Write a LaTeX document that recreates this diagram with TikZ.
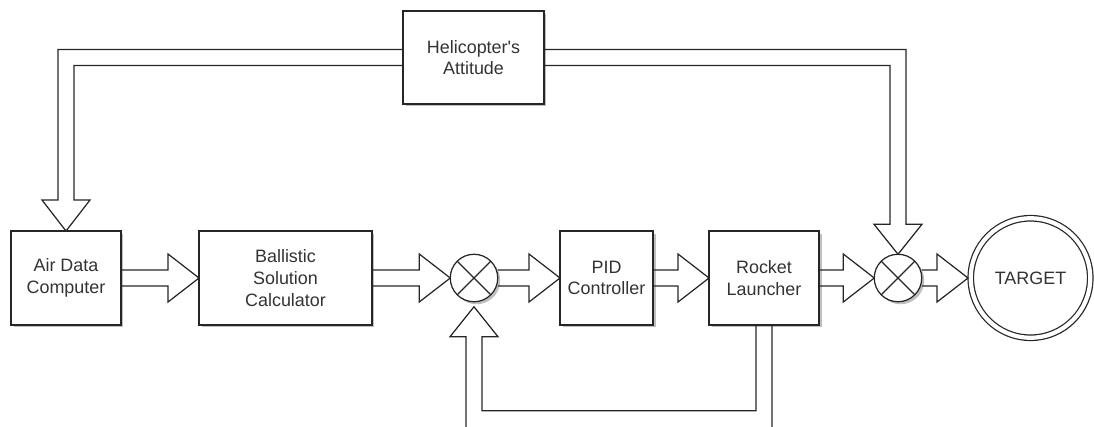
\documentclass[tikz,border=0pt]{standalone}
\usepackage{fontspec}
\newfontfamily\drawfont{Liberation Sans}
\usetikzlibrary{calc,shadows}

\begin{document}
\begin{tikzpicture}[x=0.02cm, y=-0.02cm, line width=0.7pt,
		font=\drawfont\fontsize{10.2}{12.4}\selectfont,
		shade/.style={drop shadow={shadow xshift=0.05cm, shadow yshift=-0.05cm, opacity=0.25, fill=black}},
		block/.style={draw=black!85, fill=white, text=black!80, align=center, inner sep=0pt, outer sep=0pt, shade},
		sum/.style={draw=black!85, fill=white, circle, inner sep=0pt, outer sep=0pt, minimum size=0.95cm, shade},
		goal/.style={draw=black!85, fill=white, text=black!80, circle, double, double distance=2.4pt, inner sep=0pt, outer sep=0.055cm, minimum size=2.39cm, shade},
		flat/.style={draw=black!85, to path={
				($(\tikztostart)+(0,-8)$) -- ($(\tikztotarget)+(-31,-8)$) -- ($(\tikztotarget)+(-31,-24)$)
				-- (\tikztotarget) -- ($(\tikztotarget)+(-31,24)$) -- ($(\tikztotarget)+(-31,8)$) -- ($(\tikztostart)+(0,8)$)}}]
	\useasboundingbox (0,0) rectangle (1094,426);
	\clip (0,0) rectangle (1094,426);
	
	\node[block, minimum width=2.2cm, minimum height=1.88cm] (adc) at (66,278) {Air Data\\Computer};
	\node[block, minimum width=3.46cm, minimum height=1.88cm] (bsc) at (285.5,278) {Ballistic\\Solution\\Calculator};
	\node[block, minimum width=2.82cm, minimum height=1.86cm] (heli) at (473.5,57.5) {Helicopter's\\Attitude};
	\node[sum] (sum1) at (474,278) {};
	\node[block, minimum width=1.86cm, minimum height=1.88cm] (pid) at (606.5,278) {PID\\Controller};
	\node[block, minimum width=2.2cm, minimum height=1.88cm] (rl) at (764,278) {Rocket\\Launcher};
	\node[sum] (sum2) at (898,278) {};
	\node[goal] (target) at (1030.5,278) {TARGET};
	\coordinate (fbtip) at ($(sum1.south)+(0,5)$);
	
	\draw[black!85] (sum1.north west) -- (sum1.south east);
	\draw[black!85] (sum1.north east) -- (sum1.south west);
	\draw[black!85] (sum2.north west) -- (sum2.south east);
	\draw[black!85] (sum2.north east) -- (sum2.south west);
	
	\draw[flat] (adc.east) to (bsc.west);
	\draw[flat] (bsc.east) to (sum1.west);
	\draw[flat] (sum1.east) to (pid.west);
	\draw[flat] (pid.east) to (rl.west);
	\draw[flat] (rl.east) to (sum2.west);
	\draw[flat] (sum2.east) to (target.west);
	
	\draw[black!85] ($(heli.west)+(0,-8)$) -| ($(adc.north)+(-8,-31)$) -- ++(-16,0) -- (adc.north)
		-- ++(24,-31) -- ++(-16,0) |- ($(heli.west)+(0,8)$);
	\draw[black!85] ($(heli.east)+(0,-8)$) -| ($(sum2.north)+(8,-30)$) -- ++(16,0) -- (sum2.north)
		-- ++(-24,-30) -- ++(16,0) |- ($(heli.east)+(0,8)$);
	\draw[black!85] ($(rl.south)+(-8,0)$) |- ($(fbtip)+(8,104)$) -- ($(fbtip)+(8,30)$) -- ++(16,0) -- (fbtip)
		-- ++(-24,30) -- ++(16,0) -- ($(fbtip)+(-8,140)$) -| ($(rl.south)+(8,0)$);
\end{tikzpicture}
\end{document}
